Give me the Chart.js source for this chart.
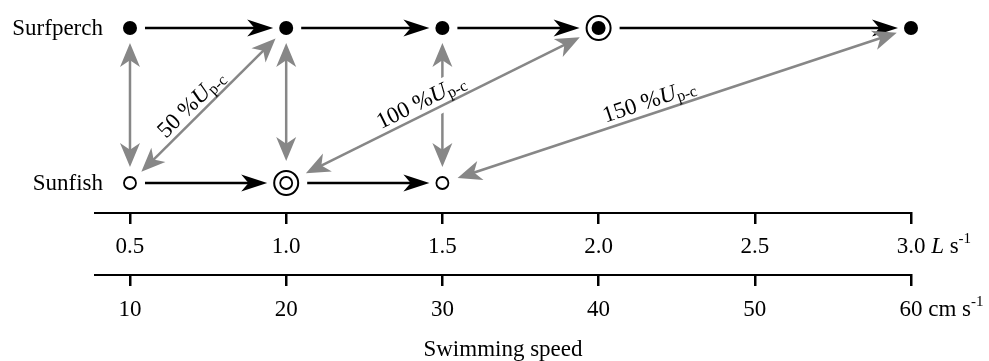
<!DOCTYPE html>
<html>
<head>
<meta charset="utf-8">
<script src="https://cdn.jsdelivr.net/npm/chart.js@4.4.1/dist/chart.umd.min.js"></script>
<style>
html,body{margin:0;padding:0;background:#fff;}
#wrap{width:989px;height:361px;position:relative;}
</style>
</head>
<body>
<div id="wrap"><canvas id="gaitChart"></canvas></div>
<script>
// rows: y = 0 sunfish, y = 1 surfperch
const speciesNames = ['Sunfish', 'Surfperch'];
// speeds swum, L s-1
const surfperchSpeeds = [0.5, 1.0, 1.5, 2.0, 3.0];
const sunfishSpeeds = [0.5, 1.0, 1.5];
// ringed symbols (gait transition)
const surfperchTransition = [2.0];
const sunfishTransition = [1.0];
// compared speeds: sunfish -> surfperch, with % Up-c label
const pairSunfish = [0.5, 1.0, 1.5, 0.5, 1.0, 1.5];
const pairSurfperch = [0.5, 1.0, 1.5, 1.0, 2.0, 3.0];
const pairPercent = ['', '', '', '50', '100', '150'];
// axis ticks
const bodyTicks = [0.5, 1.0, 1.5, 2.0, 2.5, 3.0];
const cmTicks = [10, 20, 30, 40, 50, 60];
const cmPerL = 20;

const ink = '#000';
const grey = '#878787';
const serif = '"Liberation Serif", "Times New Roman", serif';
const fs = 23;
const xMin = 0.388, xMax = 3.0;

Chart.defaults.font.family = serif;
Chart.defaults.color = ink;

function ringRadius(speed, row){
  const ringed = row === 1 ? surfperchTransition : sunfishTransition;
  return ringed.includes(speed) ? 13 : 7;
}

function head(ctx, tx, ty, ux, uy, L, W){
  ctx.beginPath();
  ctx.moveTo(tx, ty);
  ctx.lineTo(tx - ux*L - uy*W, ty - uy*L + ux*W);
  ctx.lineTo(tx - ux*L*0.72, ty - uy*L*0.72);
  ctx.lineTo(tx - ux*L + uy*W, ty - uy*L - ux*W);
  ctx.closePath();
  ctx.fill();
}

function arrow(ctx, x1, y1, x2, y2, g1, g2, color, lw, both, L, W){
  const dx = x2 - x1, dy = y2 - y1, len = Math.hypot(dx, dy);
  const ux = dx/len, uy = dy/len;
  const ax = x1 + ux*g1, ay = y1 + uy*g1;
  const bx = x2 - ux*g2, by = y2 - uy*g2;
  ctx.save();
  ctx.strokeStyle = color; ctx.fillStyle = color; ctx.lineWidth = lw;
  ctx.beginPath();
  const s = both ? L*0.6 : 0;
  ctx.moveTo(ax + ux*s, ay + uy*s);
  ctx.lineTo(bx - ux*L*0.6, by - uy*L*0.6);
  ctx.stroke();
  head(ctx, bx, by, ux, uy, L, W);
  if (both) head(ctx, ax, ay, -ux, -uy, L, W);
  ctx.restore();
}

function labelParts(pct){
  return [
    {t: pct + ' %', f: fs + 'px ' + serif, dy: 0},
    {t: 'U', f: 'italic ' + fs + 'px ' + serif, dy: 0},
    {t: 'p-c', f: '16px ' + serif, dy: 3}
  ];
}

function withLabelFrame(ctx, x1, y1, x2, y2, fn){
  const ang = Math.atan2(y2 - y1, x2 - x1);
  ctx.save();
  ctx.translate(x1 + (x2 - x1)*0.45, y1 + (y2 - y1)*0.45);
  ctx.rotate(ang);
  fn();
  ctx.restore();
}

const gaitArrows = {
  id: 'gaitArrows',
  afterDatasetsDraw(chart){
    const ctx = chart.ctx;
    const xs = chart.scales.x, ys = chart.scales.y;
    const px = v => xs.getPixelForValue(v), py = v => ys.getPixelForValue(v);

    // species names
    ctx.save();
    ctx.font = fs + 'px ' + serif;
    ctx.fillStyle = ink;
    ctx.textAlign = 'right';
    ctx.textBaseline = 'alphabetic';
    speciesNames.forEach((n, row) => ctx.fillText(n, px(0.5) - 27, py(row) + 7));
    ctx.restore();

    // black arrows between successive speeds
    [[sunfishSpeeds, 0], [surfperchSpeeds, 1]].forEach(([speeds, row]) => {
      for (let i = 0; i < speeds.length - 1; i++){
        const a = speeds[i], b = speeds[i+1];
        arrow(ctx, px(a), py(row), px(b), py(row),
          ringRadius(a, row) + 8, ringRadius(b, row) + 6, ink, 2.5, false, 26, 8.5);
      }
    });

    // vertical grey arrows (same speed)
    pairSunfish.forEach((s, i) => {
      const p = pairSurfperch[i];
      if (s !== p) return;
      arrow(ctx, px(s), py(0), px(p), py(1), ringRadius(s, 0) + 9, ringRadius(p, 1) + 8, grey, 2.5, true, 24, 10);
    });

    // white masks behind labels
    pairSunfish.forEach((s, i) => {
      if (!pairPercent[i]) return;
      const p = pairSurfperch[i];
      withLabelFrame(ctx, px(s), py(0), px(p), py(1), () => {
        let w = 0;
        labelParts(pairPercent[i]).forEach(pt => { ctx.font = pt.f; w += ctx.measureText(pt.t).width; });
        ctx.fillStyle = '#fff';
        ctx.fillRect(-w/2 - 4, -25, w + 8, 32);
      });
    });

    // diagonal grey arrows
    pairSunfish.forEach((s, i) => {
      const p = pairSurfperch[i];
      if (s === p) return;
      arrow(ctx, px(s), py(0), px(p), py(1), ringRadius(s, 0) + 9, ringRadius(p, 1) + 8, grey, 2.5, true, 24, 10);
    });

    // % Up-c labels
    pairSunfish.forEach((s, i) => {
      if (!pairPercent[i]) return;
      const p = pairSurfperch[i];
      withLabelFrame(ctx, px(s), py(0), px(p), py(1), () => {
        const parts = labelParts(pairPercent[i]);
        let w = 0;
        parts.forEach(pt => { ctx.font = pt.f; w += ctx.measureText(pt.t).width; });
        let x = -w/2;
        ctx.fillStyle = ink;
        ctx.textBaseline = 'alphabetic';
        ctx.textAlign = 'left';
        parts.forEach(pt => {
          ctx.font = pt.f;
          ctx.fillText(pt.t, x, -6 + pt.dy);
          x += ctx.measureText(pt.t).width;
        });
      });
    });
  },
  afterDraw(chart){
    // unit text after last tick label
    const ctx = chart.ctx;
    const units = [
      {id: 'x', last: bodyTicks[bodyTicks.length - 1], label: bodyTicks[bodyTicks.length - 1].toFixed(1),
        parts: [{t: 'L', f: 'italic '}, {t: ' s', f: ''}], pad: 9},
      {id: 'x2', last: cmTicks[cmTicks.length - 1], label: String(cmTicks[cmTicks.length - 1]),
        parts: [{t: 'cm s', f: ''}], pad: 10}
    ];
    ctx.save();
    ctx.fillStyle = ink;
    ctx.textBaseline = 'middle';
    ctx.textAlign = 'left';
    units.forEach(u => {
      const sc = chart.scales[u.id];
      ctx.font = fs + 'px ' + serif;
      const lw = ctx.measureText(u.label).width;
      let x = sc.getPixelForValue(u.last) + lw/2 + ctx.measureText(' ').width;
      const y = sc.top + 11 + u.pad + fs*0.6;
      u.parts.forEach(pt => {
        ctx.font = pt.f + fs + 'px ' + serif;
        ctx.fillText(pt.t, x, y);
        x += ctx.measureText(pt.t).width;
      });
      ctx.font = '15px ' + serif;
      ctx.fillText('-1', x, y - 8);
    });
    ctx.restore();
  }
};

function axisGrid(){
  return {display: true, drawOnChartArea: false, drawTicks: true, tickLength: 11, lineWidth: 2.5, color: ink};
}

new Chart(document.getElementById('gaitChart').getContext('2d'), {
  type: 'scatter',
  data: {
    datasets: [
      {label: 'Surfperch', data: surfperchSpeeds.map(v => ({x: v, y: 1})),
        pointRadius: 7, pointHoverRadius: 7, pointBorderWidth: 0, backgroundColor: ink, borderColor: ink, clip: false},
      {label: 'Sunfish', data: sunfishSpeeds.map(v => ({x: v, y: 0})),
        pointRadius: 6, pointHoverRadius: 6, pointBorderWidth: 1.8, backgroundColor: '#fff', borderColor: ink, clip: false},
      {label: 'Transition', data: surfperchTransition.map(v => ({x: v, y: 1})).concat(sunfishTransition.map(v => ({x: v, y: 0}))),
        pointRadius: 12, pointHoverRadius: 12, pointBorderWidth: 2, backgroundColor: '#fff', borderColor: ink, clip: false}
    ]
  },
  options: {
    responsive: true,
    maintainAspectRatio: false,
    animation: false,
    events: [],
    layout: {padding: {left: 95, right: 78, top: 5, bottom: 0}},
    plugins: {legend: {display: false}, tooltip: {enabled: false}},
    scales: {
      y: {display: false, min: -0.1935, max: 1.09},
      x: {
        type: 'linear', position: 'bottom', weight: 0, min: xMin, max: xMax,
        grid: axisGrid(),
        border: {display: true, width: 2, color: ink},
        ticks: {autoSkip: false, maxRotation: 0, padding: 9, color: ink, font: {size: fs, lineHeight: 1.2},
          callback: v => v.toFixed(1)},
        afterBuildTicks: sc => { sc.ticks = bodyTicks.map(v => ({value: v})); },
        afterFit: sc => { sc.height = 62; }
      },
      x2: {
        type: 'linear', position: 'bottom', weight: 1, min: xMin*cmPerL, max: xMax*cmPerL,
        grid: axisGrid(),
        border: {display: true, width: 2, color: ink},
        ticks: {autoSkip: false, maxRotation: 0, padding: 10, color: ink, font: {size: fs, lineHeight: 1.2},
          callback: v => String(v)},
        title: {display: true, text: 'Swimming speed', color: ink, font: {size: fs, lineHeight: 1}, padding: {top: 0, bottom: 0}},
        afterBuildTicks: sc => { sc.ticks = cmTicks.map(v => ({value: v})); },
        afterFit: sc => { sc.height = 86; }
      }
    }
  },
  plugins: [gaitArrows]
});
</script>
</body>
</html>
